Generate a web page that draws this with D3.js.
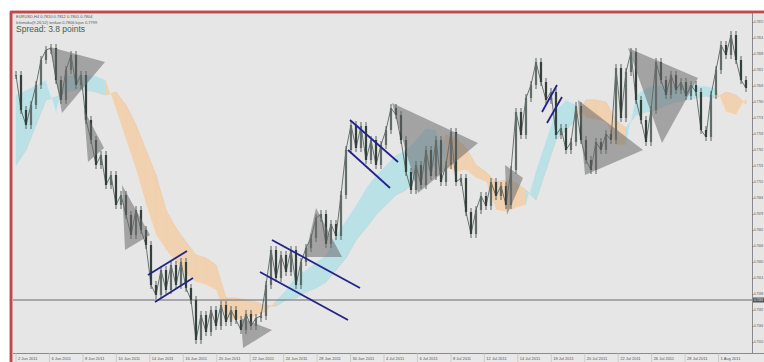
<!DOCTYPE html>
<html>
<head>
<meta charset="utf-8">
<style type="text/css">
html, body{
	padding: 0;
	margin: 0;
	background: #ffffff;
}
svg text{
	font-family: "Liberation Sans", Arial, sans-serif;
}
</style>
</head>
<body>
<svg width=764 height=362></svg>

<script type="text/javascript" src="https://cdnjs.cloudflare.com/ajax/libs/d3/7.8.5/d3.min.js"></script>
<script type="text/javascript">
// closing prices, one per bar
var closes = [
	0.7817,0.7782,0.7767,0.7787,0.7807,0.7832,0.7842,0.7844,0.7812,0.7792,
	0.7822,0.7837,0.7807,0.7817,0.7772,0.7752,0.7727,0.7737,0.7707,0.7717,
	0.7687,0.7697,0.7677,0.7657,0.7682,0.7662,0.7647,0.7607,0.7597,0.7622,
	0.7602,0.7627,0.7607,0.7630,0.7604,0.7592,0.7552,0.7577,0.7560,0.7582,
	0.7566,0.7587,0.7570,0.7582,0.7572,0.7562,0.7578,0.7566,0.7574,0.7576,
	0.7607,0.7642,0.7614,0.7637,0.7620,0.7642,0.7607,0.7630,0.7644,0.7654,
	0.7674,0.7678,0.7648,0.7668,0.7656,0.7697,0.7742,0.7767,0.7744,0.7766,
	0.7732,0.7752,0.7727,0.7747,0.7762,0.7784,0.7777,0.7752,0.7720,0.7702,
	0.7727,0.7707,0.7742,0.7716,0.7752,0.7710,0.7727,0.7760,0.7710,0.7714,
	0.7680,0.7658,0.7682,0.7696,0.7686,0.7710,0.7696,0.7706,0.7687,0.7722,
	0.7780,0.7757,0.7794,0.7807,0.7830,0.7810,0.7792,0.7800,0.7757,0.7764,
	0.7742,0.7750,0.7786,0.7752,0.7732,0.7722,0.7750,0.7742,0.7758,0.7752,
	0.7824,0.7774,0.7820,0.7840,0.7792,0.7772,0.7750,0.7782,0.7830,0.7812,
	0.7797,0.7817,0.7802,0.7810,0.7796,0.7807,0.7800,0.7762,0.7755,0.7797,
	0.7822,0.7847,0.7837,0.7857,0.7832,0.7812,0.7804
];

// ichimoku cloud, one value every 2 bars
var cloudStep = 2;
var spanA = [
	0.7797,0.7802,0.7807,0.7812,0.7779,0.7817,0.7817,0.7817,0.7816,0.7812,
	0.7782,0.7752,0.7722,0.7687,0.7657,0.7642,0.7630,0.7617,0.7610,0.7607,
	0.7602,0.7574,0.7572,0.7574,0.7576,0.7580,0.7592,0.7602,0.7617,0.7622,
	0.7630,0.7637,0.7657,0.7672,0.7687,0.7704,0.7717,0.7727,0.7737,0.7742,
	0.7752,0.7764,0.7762,0.7724,0.7720,0.7722,0.7714,0.7710,0.7682,0.7680,
	0.7684,0.7687,0.7722,0.7752,0.7782,0.7792,0.7787,0.7774,0.7772,0.7770,
	0.7747,0.7747,0.7797,0.7804,0.7807,0.7807,0.7806,0.7807,0.7806,0.7806,
	0.7804,0.7780,0.7777,0.7794
];
var spanB = [
	0.7727,0.7742,0.7767,0.7792,0.7795,0.7800,0.7802,0.7802,0.7800,0.7797,
	0.7800,0.7787,0.7767,0.7742,0.7717,0.7682,0.7664,0.7650,0.7637,0.7634,
	0.7627,0.7594,0.7594,0.7592,0.7590,0.7586,0.7586,0.7592,0.7594,0.7600,
	0.7604,0.7610,0.7622,0.7634,0.7652,0.7664,0.7677,0.7687,0.7697,0.7702,
	0.7714,0.7722,0.7727,0.7757,0.7754,0.7744,0.7727,0.7720,0.7710,0.7712,
	0.7709,0.7702,0.7692,0.7722,0.7752,0.7762,0.7772,0.7792,0.7792,0.7790,
	0.7772,0.7764,0.7777,0.7780,0.7782,0.7787,0.7790,0.7792,0.7794,0.7796,
	0.7794,0.7800,0.7797,0.7788
];

// drawn objects: [bar, price] vertices
var triangles = [
	[[6.8,0.7845],[17.8,0.7830],[9.2,0.7779]],
	[[13.6,0.7782],[17.6,0.7744],[14.4,0.7730]],
	[[21.2,0.7707],[26.8,0.7657],[21.8,0.7642]],
	[[45.0,0.7574],[51.2,0.7562],[45.4,0.7544]],
	[[57.8,0.7635],[60.0,0.7684],[65.2,0.7635]],
	[[75.2,0.7789],[92.4,0.7749],[80.4,0.7699]],
	[[97.8,0.7727],[101.4,0.7714],[98.2,0.7677]],
	[[112.4,0.7792],[125.4,0.7742],[113.8,0.7717]],
	[[122.4,0.7844],[136.4,0.7814],[129.2,0.7749]]
];
var trendLines = [
	[[26.4,0.7617],[34.2,0.7641]],
	[[27.8,0.7590],[35.4,0.7614]],
	[[51.2,0.7652],[68.8,0.7604]],
	[[48.8,0.7620],[66.4,0.7572]],
	[[66.8,0.7772],[76.4,0.7730]],
	[[66.4,0.7742],[74.8,0.7704]],
	[[105.2,0.7780],[108.2,0.7807]],
	[[106.2,0.7769],[109.2,0.7795]]
];

var bid = 0.7592;
var priceTicks = [0.7550,0.7566,0.7582,0.7598,0.7614,0.7630,0.7646,0.7662,0.7678,0.7694,
	0.7710,0.7726,0.7742,0.7758,0.7774,0.7790,0.7806,0.7822,0.7838,0.7854,0.7870];
var dateLabels = ["2 Jun 2011","6 Jun 2011","8 Jun 2011","10 Jun 2011","14 Jun 2011","16 Jun 2011",
	"20 Jun 2011","22 Jun 2011","24 Jun 2011","28 Jun 2011","30 Jun 2011","4 Jul 2011",
	"6 Jul 2011","8 Jul 2011","12 Jul 2011","14 Jul 2011","18 Jul 2011","20 Jul 2011",
	"22 Jul 2011","26 Jul 2011","28 Jul 2011","1 Aug 2011"];
var headerLines = ["EURUSD,H4  0.7810 0.7812 0.7801 0.7804",
	"Ichimoku(9,26,52) tenkan 0.7806 kijun 0.7799"];
var spreadText = "Spread: 3.8 points";

var svg = d3.select('svg');
var n = closes.length;

var x = d3.scaleLinear().domain([0, n-1]).range([16, 746]);
var y = d3.scaleLinear().domain([0.7540, 0.7878]).range([352, 14]);

// frame + background
svg.append('rect').attr('x',11).attr('y',12).attr('width',800).attr('height',400)
	.style('fill','#e6e6e6').style('stroke','#c0474a').style('stroke-width',2.5);

// cloud, one trapezoid per step, coloured by which span is on top
var cloud = svg.append('g');
spanA.forEach((a,k)=>{
	if(k==spanA.length-1) return;
	var b = spanB[k], a1 = spanA[k+1], b1 = spanB[k+1];
	var x0 = x(k*cloudStep), x1 = x((k+1)*cloudStep);
	var up = (a+a1) >= (b+b1);
	cloud.append('polygon')
		.attr('points',[[x0,y(a)],[x1,y(a1)],[x1,y(b1)],[x0,y(b)]].map(p=>p.join(',')).join(' '))
		.style('fill',up?'#b9e1e6':'#f0d1b0')
		.style('stroke',up?'#b9e1e6':'#f0d1b0')
		.style('stroke-width',0.6);
});
var spanLine = d3.line().x((d,k)=>x(k*cloudStep)).y(d=>y(d));
svg.append('path').attr('d',spanLine(spanA)).style('fill','none').style('stroke','#f6f6f6').style('stroke-width',0.6).style('opacity',0.7);
svg.append('path').attr('d',spanLine(spanB)).style('fill','none').style('stroke','#dcc6ae').style('stroke-width',0.5).style('opacity',0.6);

// bid line
svg.append('line').attr('x1',13).attr('x2',752).attr('y1',y(bid)).attr('y2',y(bid))
	.style('stroke','#6a6a6a').style('stroke-width',1);

// candles
var prev = i=>closes[Math.max(0,i-1)];
svg.append('path')
	.attr('d',d3.line().x((d,i)=>x(i)).y(d=>y(d))(closes))
	.style('fill','none').style('stroke','#4a5652').style('stroke-width',0.8);
var bars = svg.append('g').selectAll('g')
	.data(closes)
	.enter()
	.append('g');
bars.append('line')
	.attr('x1',(d,i)=>x(i)).attr('x2',(d,i)=>x(i))
	.attr('y1',(d,i)=>y(Math.max(d,prev(i)))-4)
	.attr('y2',(d,i)=>y(Math.min(d,prev(i)))+4)
	.style('stroke','#36423e').style('stroke-width',0.8);
bars.append('rect')
	.attr('x',(d,i)=>x(i)-1.1).attr('width',2.2)
	.attr('y',(d,i)=>y(Math.max(d,prev(i))))
	.attr('height',(d,i)=>Math.max(1,Math.abs(y(d)-y(prev(i)))))
	.style('fill',(d,i)=>d>=prev(i)?'#5f6c67':'#34403c');

// triangles
svg.append('g').selectAll('polygon')
	.data(triangles)
	.enter()
	.append('polygon')
	.attr('points',d=>d.map(p=>x(p[0])+','+y(p[1])).join(' '))
	.style('fill','#6c6c6c').style('opacity',0.55);

// trend lines
svg.append('g').selectAll('line')
	.data(trendLines)
	.enter()
	.append('line')
	.attr('x1',d=>x(d[0][0])).attr('y1',d=>y(d[0][1]))
	.attr('x2',d=>x(d[1][0])).attr('y2',d=>y(d[1][1]))
	.style('stroke','#22248a').style('stroke-width',1.8);

// right price axis
svg.append('rect').attr('x',752).attr('y',13.5).attr('width',12).attr('height',340).style('fill','#e6e6e6');
svg.append('line').attr('x1',752.5).attr('x2',752.5).attr('y1',13).attr('y2',353).style('stroke','#8a8a8a');
var yAxis = svg.append('g').attr('transform','translate(752,0)')
	.call(d3.axisRight(y).tickValues(priceTicks).tickSize(1.5).tickFormat(d3.format('.4f')));
yAxis.select('.domain').remove();
yAxis.selectAll('line').style('stroke','#777');
yAxis.selectAll('text').attr('x',2).style('font-size','3px').style('fill','#555');
svg.append('rect').attr('x',753).attr('y',y(bid)-2.5).attr('width',11).attr('height',5).style('fill','#555');
svg.append('text').attr('x',754).attr('y',y(bid)+1.1).text(d3.format('.4f')(bid))
	.style('font-size','3px').style('fill','#eee');

// bottom time axis
svg.append('rect').attr('x',13).attr('y',353).attr('width',751).attr('height',9).style('fill','#e8e8e8');
svg.append('line').attr('x1',13).attr('x2',764).attr('y1',353.5).attr('y2',353.5).style('stroke','#8a8a8a');
var tx = d3.scaleLinear().domain([0, dateLabels.length]).range([16, 752]);
svg.append('g').selectAll('text')
	.data(dateLabels)
	.enter()
	.append('text')
	.attr('x',(d,i)=>tx(i)+2)
	.attr('y',359.5)
	.text(d=>d)
	.style('font-size','4px').style('fill','#555');
svg.append('g').selectAll('line')
	.data(dateLabels)
	.enter()
	.append('line')
	.attr('x1',(d,i)=>tx(i)).attr('x2',(d,i)=>tx(i))
	.attr('y1',353).attr('y2',362)
	.style('stroke','#b8b8b8').style('stroke-width',0.6);

// header
svg.append('g').selectAll('text')
	.data(headerLines)
	.enter()
	.append('text')
	.attr('x',16).attr('y',(d,i)=>18+i*5.5)
	.text(d=>d)
	.style('font-size','4px').style('fill','#555');
svg.append('text').attr('x',16).attr('y',32).text(spreadText)
	.style('font-size','8.5px').style('fill','#3f5f50');

// red edges on top
svg.append('line').attr('x1',11).attr('x2',11).attr('y1',12).attr('y2',362)
	.style('stroke','#c0474a').style('stroke-width',2.5);
svg.append('line').attr('x1',11).attr('x2',764).attr('y1',12).attr('y2',12)
	.style('stroke','#c0474a').style('stroke-width',2.5);
</script>
</body>
</html>
